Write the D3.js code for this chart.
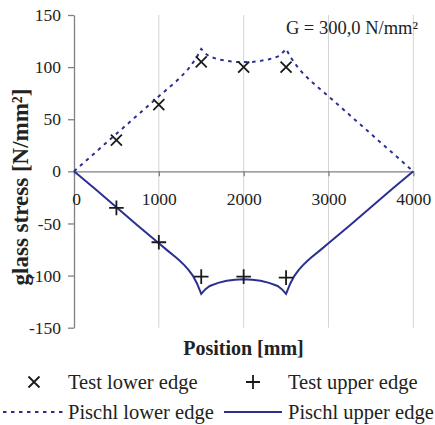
<!DOCTYPE html>
<html>
<head>
<meta charset="utf-8">
<script src="https://cdn.jsdelivr.net/npm/d3@7"></script>
<style>
  body { margin: 0; background: #fff; }
  svg { display: block; font-family: "Liberation Serif", "Times New Roman", serif; }
  svg text { font-family: "Liberation Serif", "Times New Roman", serif; }
</style>
</head>
<body>
<svg width="435" height="425"></svg>
<script>
// measured test points
const testPos = [500, 1000, 1500, 2000, 2500]
const testLower = [30, 64, 105, 100, 100]
const testUpper = [-35, -68, -101, -101, -102]

// Pischl model curves
const pischlPos = [0, 250, 500, 750, 1000, 1100, 1200, 1250, 1300, 1350, 1400, 1450, 1500, 1550, 1600, 1700, 1800, 1900, 2000,
  2100, 2200, 2300, 2400, 2450, 2500, 2550, 2600, 2650, 2700, 2750, 2800, 2900, 3000, 3250, 3500, 3750, 4000]
const pischlLower = [0, 18, 36, 54, 72, 79, 86, 90, 94, 98.5, 104, 110, 117.5, 113, 110, 107.5, 106, 105, 104.8,
  105, 106, 107.5, 110, 113, 117.5, 110, 104, 98.5, 94, 90, 86, 79, 72, 54, 36, 18, 0]
const pischlUpper = [0, -17, -34.5, -52, -69, -75.8, -82.5, -86, -90, -94.5, -100, -107.5, -117.5, -113, -110, -107, -105, -104, -103.5,
  -104, -105, -107, -110, -113, -117.5, -107.5, -100, -94.5, -90, -86, -82.5, -75.8, -69, -52, -34.5, -17, 0]

const xTicks = [0, 1000, 2000, 3000, 4000]
const yTicks = [-150, -100, -50, 0, 50, 100, 150]
const legendItems = ['Test lower edge', 'Test upper edge', 'Pischl lower edge', 'Pischl upper edge']

const blue = '#2b3090'
const svg = d3.select('svg')

const xs = d3.scaleLinear().domain([0, 4000]).range([74, 413.3])
const ys = d3.scaleLinear().domain([-150, 150]).range([327.7, 15])

// vertical grid
svg.append('g').selectAll('line').data(xTicks.slice(1)).enter().append('line')
  .attr('x1', d => xs(d)).attr('x2', d => xs(d))
  .attr('y1', ys(150)).attr('y2', ys(-150))
  .attr('stroke', '#d4d4d4').attr('stroke-width', 1)

// axes
const yAxis = svg.append('g').attr('transform', 'translate(' + xs(0) + ',0)')
  .call(d3.axisLeft(ys).tickValues(yTicks).tickSize(6).tickSizeOuter(0).tickPadding(7).tickFormat(d => String(d)))
const xAxis = svg.append('g').attr('transform', 'translate(0,' + ys(0) + ')')
  .call(d3.axisBottom(xs).tickValues(xTicks).tickSize(5).tickSizeOuter(0).tickPadding(16).tickFormat(d => String(d)))
yAxis.attr('font-family', null).attr('font-size', 17.5)
xAxis.attr('font-family', null).attr('font-size', 17.5)
svg.selectAll('.domain, .tick line').attr('stroke', '#808080').attr('stroke-width', 1.3)
svg.selectAll('.tick text').attr('fill', '#222')
xAxis.selectAll('.tick text').filter(d => d === 0).attr('dx', 2)

// Pischl lines
const line = d3.line().x(d => xs(d[0])).y(d => ys(d[1]))
svg.append('path').datum(pischlPos.map((p, i) => [p, pischlLower[i]]))
  .attr('d', line).attr('fill', 'none').attr('stroke', blue).attr('stroke-width', 2)
  .attr('stroke-dasharray', '3.5,4.5')
svg.append('path').datum(pischlPos.map((p, i) => [p, pischlUpper[i]]))
  .attr('d', line).attr('fill', 'none').attr('stroke', blue).attr('stroke-width', 2)

// markers
function crossPath(x, y, r) { return 'M' + (x - r) + ',' + (y - r) + 'L' + (x + r) + ',' + (y + r) + 'M' + (x + r) + ',' + (y - r) + 'L' + (x - r) + ',' + (y + r) }
function plusPath(x, y, r) { return 'M' + (x - r) + ',' + y + 'L' + (x + r) + ',' + y + 'M' + x + ',' + (y - r) + 'L' + x + ',' + (y + r) }

svg.append('g').selectAll('path').data(testPos).enter().append('path')
  .attr('d', (d, i) => crossPath(xs(d), ys(testLower[i]), 5.5))
  .attr('stroke', '#1a1a1a').attr('stroke-width', 1.8).attr('fill', 'none')
svg.append('g').selectAll('path').data(testPos).enter().append('path')
  .attr('d', (d, i) => plusPath(xs(d), ys(testUpper[i]), 7.3))
  .attr('stroke', '#1a1a1a').attr('stroke-width', 1.8).attr('fill', 'none')

// annotation
svg.append('text').attr('x', 418).attr('y', 34).attr('text-anchor', 'end')
  .attr('font-size', 18.5).attr('fill', '#222').text('G = 300,0 N/mm²')

// axis titles
svg.append('text').attr('x', 243.5).attr('y', 355).attr('text-anchor', 'middle')
  .attr('font-size', 20).attr('font-weight', 'bold').attr('fill', '#222').text('Position [mm]')
svg.append('text').attr('transform', 'translate(28,187) rotate(-90)').attr('text-anchor', 'middle')
  .attr('font-size', 23).attr('font-weight', 'bold').attr('fill', '#222').text('glass stress [N/mm²]')

// legend
const lg = svg.append('g')
lg.append('path').attr('d', crossPath(34, 382, 5.5)).attr('stroke', '#1a1a1a').attr('stroke-width', 1.8)
lg.append('path').attr('d', plusPath(253, 382, 7)).attr('stroke', '#1a1a1a').attr('stroke-width', 1.8)
lg.append('line').attr('x1', 3).attr('x2', 63).attr('y1', 412).attr('y2', 412)
  .attr('stroke', blue).attr('stroke-width', 2).attr('stroke-dasharray', '3.5,4.5')
lg.append('line').attr('x1', 224).attr('x2', 282).attr('y1', 412).attr('y2', 412)
  .attr('stroke', blue).attr('stroke-width', 2)
lg.selectAll('text').data(legendItems).enter().append('text')
  .attr('x', (d, i) => i % 2 === 0 ? 68 : 288)
  .attr('y', (d, i) => i < 2 ? 388.5 : 418.5)
  .attr('font-size', 20.5).attr('fill', '#222')
  .text(d => d)
</script>
</body>
</html>
